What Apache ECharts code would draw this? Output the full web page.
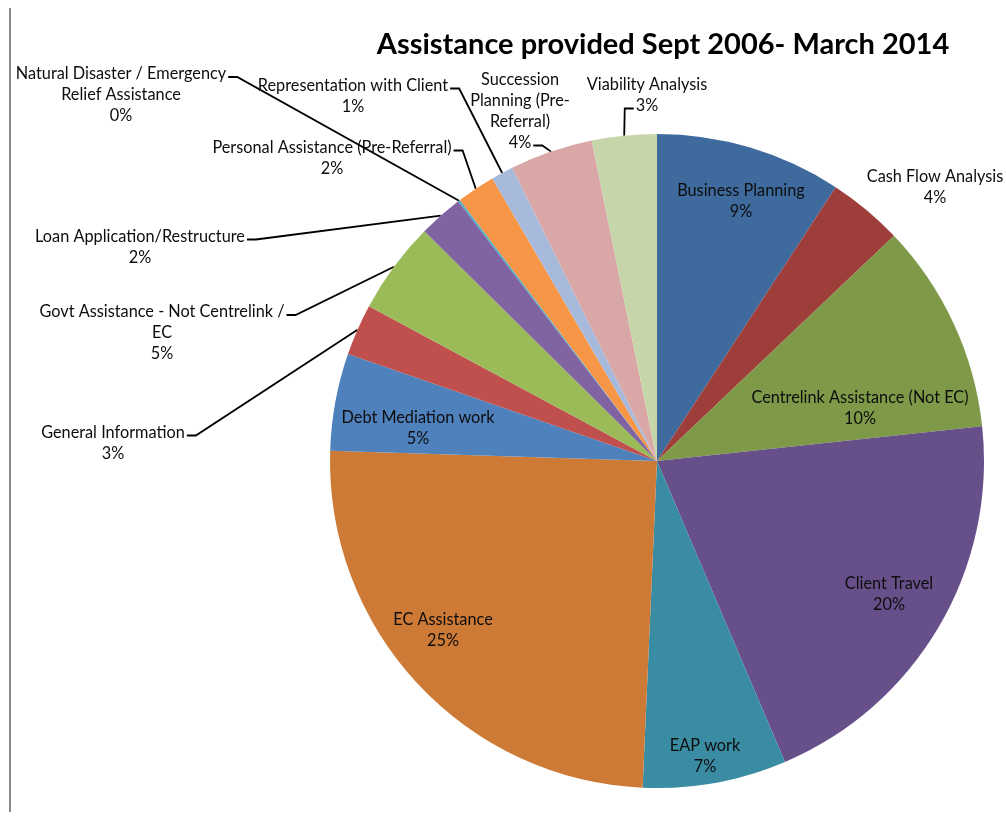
<!DOCTYPE html>
<html>
<head>
<meta charset="utf-8">
<title>Assistance provided Sept 2006- March 2014</title>
<script src="https://cdn.jsdelivr.net/npm/echarts@6/dist/echarts.min.js"></script>
<style>
    html, body { margin: 0; padding: 0; background: #fff; }
    #chart { width: 1006px; height: 827px; }
</style>
</head>
<body>
<div id="chart"></div>
<script>
// slices clockwise from 12 o'clock, names broken the way the chart shows them
const categories = [
    'Business Planning',
    'Cash Flow Analysis',
    'Centrelink Assistance (Not EC)',
    'Client Travel',
    'EAP work',
    'EC Assistance',
    'Debt Mediation work',
    'General Information',
    'Govt Assistance - Not Centrelink /\nEC',
    'Loan Application/Restructure',
    'Natural Disaster / Emergency\nRelief Assistance',
    'Personal Assistance (Pre-Referral)',
    'Representation with Client',
    'Succession\nPlanning (Pre-\nReferral)',
    'Viability Analysis'
]
// share of assistance (%)
const values = [9.2, 3.7, 10.4, 20.3, 7.1, 24.8, 4.8, 2.55, 4.55, 2.2, 0.1, 1.9, 1.1, 4.1, 3.2]

const colors = [
    '#3E6A9D', '#9D3E3B', '#7E9A48', '#67508A', '#3A8CA3', '#CC7A36',
    '#4F81BD', '#C0504D', '#9BBB59', '#8064A2', '#4BACC6', '#F79646',
    '#A8BADB', '#D9A7A6', '#C6D6AA'
]
// where Excel put each label (block centre, px) and how its leader line hooks on
const labelSpots = [
    [741, 201], [935, 187], [860, 408], [889, 594], [705, 756], [443, 630],
    [418, 428], [113, 443], [162, 333], [140, 247], [121, 95], [332, 158],
    [353, 96], [520, 111], [647, 95]
]
const leaderHooks = [
    null, null, null, null, null, null,
    null, 'firstRight', 'firstRight', 'firstRight', 'firstRight', 'firstRight',
    'firstRight', 'lastRight', 'lastLeft'
]

const FONT_SIZE = 16.3
const FONT_FAMILY = 'Lato'
const LINE_H = 21

const total = values.reduce((a, b) => a + b, 0)
const pctText = v => Math.round(v / total * 100) + '%'

const measure = document.createElement('canvas').getContext('2d')
measure.font = FONT_SIZE + 'px ' + FONT_FAMILY

const chart = echarts.init(document.getElementById('chart'))
const option = {
    animation: false,
    backgroundColor: '#fff',
    title: {
        text: 'Assistance provided Sept 2006- March 2014',
        left: 658,
        top: 25,
        textAlign: 'center',
        textStyle: {
            fontFamily: FONT_FAMILY,
            fontWeight: 'bold',
            fontSize: 29,
            color: '#000'
        }
    },
    graphic: [{
        type: 'line',
        shape: { x1: 10, y1: 8, x2: 10, y2: 812 },
        style: { stroke: '#8a8a8a', lineWidth: 2 }
    }],
    series: [{
        type: 'pie',
        center: [657, 461],
        radius: 327,
        startAngle: 90,
        clockwise: true,
        avoidLabelOverlap: false,
        emphasis: { disabled: true },
        itemStyle: { borderWidth: 0 },
        label: {
            show: true,
            position: 'outside',
            fontFamily: FONT_FAMILY,
            fontSize: FONT_SIZE,
            lineHeight: LINE_H,
            color: '#0d0d0d',
            formatter: p => p.name + '\n' + pctText(p.value)
        },
        labelLine: {
            show: true,
            lineStyle: { color: '#000', width: 1.8 }
        },
        labelLayout: function (p) {
            const spot = labelSpots[p.dataIndex]
            const res = { x: spot[0], y: spot[1], align: 'center', verticalAlign: 'middle' }
            const hook = leaderHooks[p.dataIndex]
            if (hook && p.labelLinePoints) {
                const lines = categories[p.dataIndex].split('\n')
                lines.push(pctText(values[p.dataIndex]))
                const h = lines.length * LINE_H
                let ax, ay, dir
                if (hook === 'firstRight') {
                    ax = spot[0] + measure.measureText(lines[0]).width / 2 + 2
                    ay = spot[1] - h / 2 + LINE_H / 2 + 3
                    dir = 1
                } else {
                    const w = measure.measureText(lines[lines.length - 1]).width
                    dir = hook === 'lastRight' ? 1 : -1
                    ax = spot[0] + dir * (w / 2 + 2)
                    ay = spot[1] + h / 2 - LINE_H / 2 + 3
                }
                res.labelLinePoints = [p.labelLinePoints[0], [ax + dir * 9, ay], [ax, ay]]
            }
            return res
        },
        data: categories.map((name, i) => ({
            name: name,
            value: values[i],
            itemStyle: { color: colors[i] },
            labelLine: { show: leaderHooks[i] !== null }
        }))
    }]
}
chart.setOption(option)
window.addEventListener('resize', () => {
    chart.resize()
})
</script>
</body>
</html>
